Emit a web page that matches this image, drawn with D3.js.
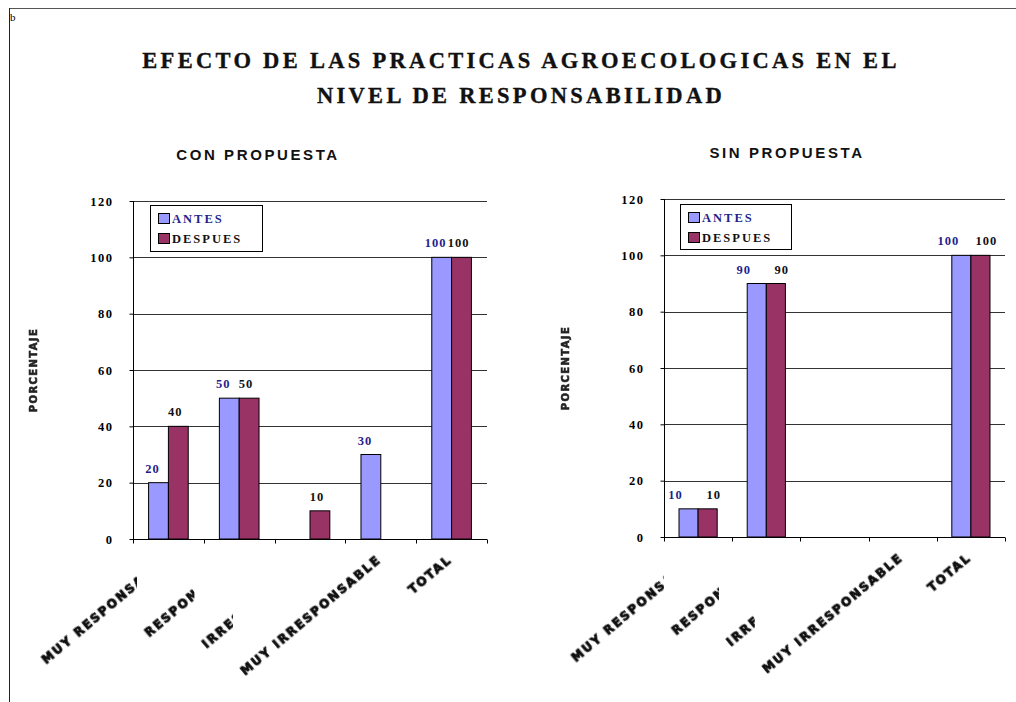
<!DOCTYPE html>
<html><head><meta charset="utf-8">
<script src="https://cdn.jsdelivr.net/npm/d3@7"></script>
<style>body{margin:0;background:#fff;} svg{display:block}</style>
</head><body><svg id="c" width="1016" height="702"></svg>
<script>
// ---- data ----
const categories = ["MUY RESPONSABLE", "RESPONSABLE", "IRRESPONSABLE", "MUY IRRESPONSABLE", "TOTAL"];
const seriesNames = ["ANTES", "DESPUES"];
const conAntes   = [20, 50, null, 30, 100];
const conDespues = [40, 50, 10, null, 100];
const sinAntes   = [10, 90, null, null, 100];
const sinDespues = [10, 90, null, null, 100];
const yTicks = [0, 20, 40, 60, 80, 100, 120];
const titleLines = ["EFECTO DE LAS PRACTICAS AGROECOLOGICAS EN EL", "NIVEL DE RESPONSABILIDAD"];
const panelTitles = ["CON PROPUESTA", "SIN PROPUESTA"];
const yAxisTitle = "PORCENTAJE";

// ---- style / layout ----
const colors = ["#9999FF", "#993366"];
const labelColors = ["#1F1F8C", "#111111"];
const serif = "'Liberation Serif','Times New Roman',serif";
const sans = "'Liberation Sans',Arial,sans-serif";
const heavy = "'DejaVu Sans',Verdana,sans-serif";

const panels = [
  {title: panelTitles[0], series: [conAntes, conDespues], x0: 133, x1: 487, yTop: 201, yBot: 539,
   titleX: 258, titleY: 160, legend: {x: 150, y: 205, w: 112, h: 46}, yTitleX: 37, labelDx: [-6, -3]},
  {title: panelTitles[1], series: [sinAntes, sinDespues], x0: 664, x1: 1005, yTop: 199, yBot: 537,
   titleX: 787, titleY: 158, legend: {x: 680, y: 204, w: 111, h: 45}, yTitleX: 569, labelDx: [-13, 6]}
];

const svg = d3.select("#c");
const defs = svg.append("defs");
defs.append("filter").attr("id", "soft").append("feGaussianBlur").attr("stdDeviation", 0.6);

// frame
svg.append("line").attr("x1", 9).attr("x2", 1016).attr("y1", 8.5).attr("y2", 8.5).attr("stroke", "#555");
svg.append("line").attr("x1", 9.5).attr("x2", 9.5).attr("y1", 8).attr("y2", 702).attr("stroke", "#222");
svg.append("text").attr("x", 10).attr("y", 21).attr("font-family", serif).attr("font-size", 11).text("b");

// main title
svg.selectAll("text.title").data(titleLines).join("text").attr("class", "title")
  .attr("x", 521).attr("y", (d, i) => 68 + i * 35)
  .attr("text-anchor", "middle").attr("font-family", serif).attr("font-weight", "bold")
  .attr("font-size", 22.5).attr("letter-spacing", "3.3px").attr("fill", "#111")
  .attr("stroke", "#111").attr("stroke-width", 0.35).text(d => d);

panels.forEach((p, pi) => {
  const g = svg.append("g");
  const x = d3.scaleBand().domain(categories).range([p.x0, p.x1]).paddingInner(0).paddingOuter(0);
  const y = d3.scaleLinear().domain([0, 120]).range([p.yBot, p.yTop]);
  const bw = x.bandwidth() * 0.28;
  const xs = d3.scaleBand().domain(seriesNames).range([0, bw * 2]);

  // panel title
  g.append("text").attr("x", p.titleX).attr("y", p.titleY).attr("text-anchor", "middle")
    .attr("font-family", sans).attr("font-weight", "bold").attr("font-size", 15)
    .attr("letter-spacing", "2.6px").attr("fill", "#111").text(p.title);

  // gridlines
  g.selectAll("line.grid").data(yTicks.filter(t => t > 0)).join("line").attr("class", "grid")
    .attr("x1", p.x0).attr("x2", p.x1).attr("y1", d => Math.round(y(d)) + 0.5).attr("y2", d => Math.round(y(d)) + 0.5)
    .attr("stroke", "#333").attr("stroke-width", 1);

  // y axis
  const ya = g.append("g").attr("transform", `translate(${p.x0 + 0.5},0)`)
    .call(d3.axisLeft(y).tickValues(yTicks).tickSize(4).tickPadding(16));
  ya.select(".domain").attr("stroke", "#000").attr("d", `M0,${p.yTop}V${p.yBot}`);
  ya.selectAll(".tick line").attr("stroke", "#000");
  ya.selectAll(".tick text").attr("font-family", serif).attr("font-weight", "bold")
    .attr("font-size", 12.5).attr("letter-spacing", "1.5px").attr("fill", "#000");

  // x axis (ticks at band boundaries)
  const xa = g.append("g").attr("transform", `translate(0,${p.yBot + 0.5})`);
  xa.append("line").attr("x1", p.x0).attr("x2", p.x1).attr("stroke", "#000");
  const bounds = categories.map(c => x(c)).concat([p.x1]);
  xa.selectAll("line.tk").data(bounds).join("line").attr("class", "tk")
    .attr("x1", d => Math.round(d) + 0.5).attr("x2", d => Math.round(d) + 0.5).attr("y1", 0).attr("y2", 4).attr("stroke", "#000");

  // bars + value labels
  const labelNodes = [];
  p.series.forEach((vals, si) => {
    const pts = vals.map((v, i) => ({c: categories[i], i, v})).filter(d => d.v != null && d.v > 0);
    g.selectAll(null).data(pts).join("rect")
      .attr("x", d => x(d.c) + (x.bandwidth() - bw * 2) / 2 + xs(seriesNames[si]))
      .attr("y", d => y(d.v)).attr("width", bw).attr("height", d => p.yBot - y(d.v))
      .attr("fill", colors[si]).attr("stroke", "#000").attr("stroke-width", 1);
    g.selectAll(null).data(pts).join("text")
      .attr("x", d => x(d.c) + (x.bandwidth() - bw * 2) / 2 + xs(seriesNames[si]) + bw / 2 + p.labelDx[si])
      .attr("y", d => y(d.v) - 10).attr("text-anchor", "middle")
      .attr("font-family", serif).attr("font-weight", "bold").attr("font-size", 12.5)
      .attr("letter-spacing", "1px").attr("fill", labelColors[si]).text(d => d.v)
      .each(function(d) { labelNodes.push({node: this, i: d.i, si}); });
  });
  // raise a DESPUES label if it would collide with the ANTES label of the same category
  labelNodes.filter(l => l.si === 1).forEach(l => {
    const a = labelNodes.find(o => o.si === 0 && o.i === l.i);
    if (!a) return;
    const ra = a.node.getBBox(), rb = l.node.getBBox();
    if (rb.x < ra.x + ra.width + 3 && Math.abs(ra.y - rb.y) < ra.height && pi === 1) {
      d3.select(l.node).attr("y", +d3.select(l.node).attr("y") - 12);
    }
  });

  // category labels, rotated; overlapping ones clipped at the next label's start
  const labs = categories.map((c, i) => {
    const lg = g.append("g");
    const t = lg.append("text")
      .attr("transform", `translate(${x(c) + x.bandwidth() / 2 + 1},${p.yBot + 22}) rotate(-40)`)
      .attr("text-anchor", "end").attr("font-family", heavy)
      .attr("font-weight", "bold").attr("font-size", 12).attr("letter-spacing", "1.9px")
      .attr("fill", "#111").attr("stroke", "#111").attr("stroke-width", 0.9)
      .attr("filter", "url(#soft)").text(c);
    return {lg, t};
  });
  const boxes = labs.map(l => l.t.node().getBoundingClientRect());
  const svgRect = svg.node().getBoundingClientRect();
  for (let i = 0; i < labs.length - 1; i++) {
    const right = boxes[i].right - svgRect.left;
    const nextLeft = boxes[i + 1].left - svgRect.left;
    if (right > nextLeft - 5) {
      const id = `clip${pi}_${i}`;
      defs.append("clipPath").attr("id", id).append("rect")
        .attr("x", 0).attr("y", 0).attr("width", nextLeft - 5).attr("height", 702);
      labs[i].lg.attr("clip-path", `url(#${id})`);
    }
  }

  // y axis title
  g.append("text").attr("transform", `translate(${p.yTitleX},${(p.yTop + p.yBot) / 2}) rotate(-90)`)
    .attr("text-anchor", "middle").attr("font-family", heavy)
    .attr("font-weight", "bold").attr("font-size", 10).attr("letter-spacing", "1.4px")
    .attr("fill", "#222").attr("stroke", "#222").attr("stroke-width", 0.6)
    .attr("filter", "url(#soft)").text(yAxisTitle);

  // legend
  const L = p.legend;
  const lgd = g.append("g");
  lgd.append("rect").attr("x", L.x + 0.5).attr("y", L.y + 0.5).attr("width", L.w).attr("height", L.h)
    .attr("fill", "#fff").attr("stroke", "#000").attr("stroke-width", 1);
  seriesNames.forEach((s, si) => {
    lgd.append("rect").attr("x", L.x + 8.5).attr("y", L.y + 8.5 + si * 20).attr("width", 11).attr("height", 10)
      .attr("fill", colors[si]).attr("stroke", "#000");
    lgd.append("text").attr("x", L.x + 22).attr("y", L.y + 18 + si * 20)
      .attr("font-family", serif).attr("font-weight", "bold").attr("font-size", 12.5)
      .attr("letter-spacing", "2px").attr("fill", labelColors[si]).text(s);
  });
});
</script></body></html>
